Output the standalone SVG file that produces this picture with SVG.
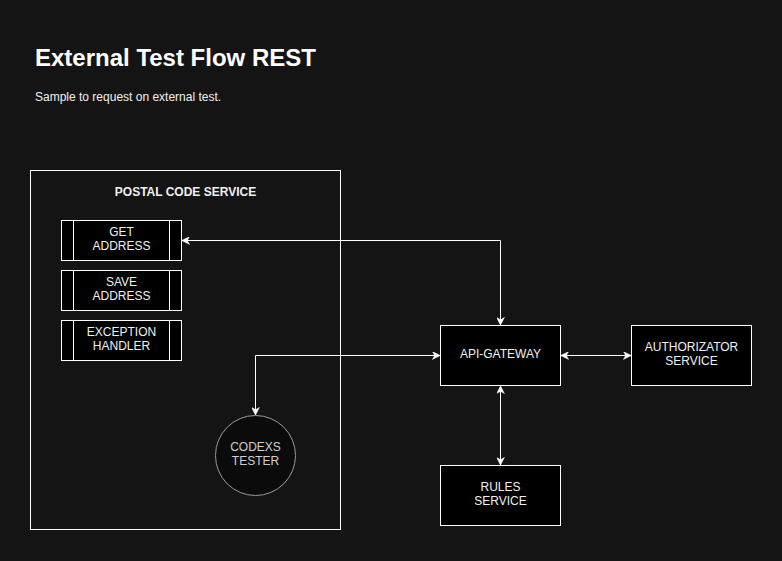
<svg xmlns="http://www.w3.org/2000/svg" width="782" height="561" viewBox="0 0 782 561">
<defs>
<style>
.bg{fill:#141414}
.box{fill:#000;stroke:#fff;stroke-width:1}
.t{font-family:"Liberation Sans",Arial,sans-serif;font-size:12px;fill:#f0f0f0;text-anchor:middle}
.edge{fill:none;stroke:#fff;stroke-width:1}
</style>
<marker id="arr" viewBox="0 0 10 10" refX="9" refY="5" markerWidth="8" markerHeight="8" orient="auto-start-reverse" markerUnits="userSpaceOnUse">
<path d="M0,0 L10,5 L0,10 L3,5 Z" fill="#fff" stroke="#fff" stroke-width="0.5"/>
</marker>
</defs>
<rect class="bg" x="0" y="0" width="782" height="561"/>
<g id="title">
<text x="35" y="66" font-family="'Liberation Sans',Arial,sans-serif" font-size="24" font-weight="bold" fill="#fff">External Test Flow REST</text>
<text x="35" y="101" font-family="'Liberation Sans',Arial,sans-serif" font-size="12" fill="#f0f0f0">Sample to request on external test.</text>
</g>
<g id="postal-code-service">
<rect x="30.5" y="170.5" width="310" height="359" fill="none" stroke="#fff"/>
<text class="t" x="185.5" y="196" font-weight="bold">POSTAL CODE SERVICE</text>
</g>
<g id="get-address">
<rect class="box" x="61.5" y="220.5" width="120" height="40"/>
<line x1="73.5" y1="220.5" x2="73.5" y2="260.5" stroke="#fff"/>
<line x1="169.5" y1="220.5" x2="169.5" y2="260.5" stroke="#fff"/>
<text class="t" x="121.5" y="236">GET</text>
<text class="t" x="121.5" y="250">ADDRESS</text>
</g>
<g id="save-address">
<rect class="box" x="61.5" y="270.5" width="120" height="40"/>
<line x1="73.5" y1="270.5" x2="73.5" y2="310.5" stroke="#fff"/>
<line x1="169.5" y1="270.5" x2="169.5" y2="310.5" stroke="#fff"/>
<text class="t" x="121.5" y="286">SAVE</text>
<text class="t" x="121.5" y="300">ADDRESS</text>
</g>
<g id="exception-handler">
<rect class="box" x="61.5" y="320.5" width="120" height="40"/>
<line x1="73.5" y1="320.5" x2="73.5" y2="360.5" stroke="#fff"/>
<line x1="169.5" y1="320.5" x2="169.5" y2="360.5" stroke="#fff"/>
<text class="t" x="121.5" y="336">EXCEPTION</text>
<text class="t" x="121.5" y="350">HANDLER</text>
</g>
<g id="codexs-tester">
<circle cx="255.5" cy="455.5" r="40" fill="#0b0b0b" stroke="#9a9a9a"/>
<text class="t" x="255.5" y="451" fill="#cfcfcf" style="fill:#cfcfcf">CODEXS</text>
<text class="t" x="255.5" y="465" style="fill:#cfcfcf">TESTER</text>
</g>
<g id="api-gateway">
<rect class="box" x="440.5" y="325.5" width="120" height="60"/>
<text class="t" x="500.5" y="358">API-GATEWAY</text>
</g>
<g id="authorizator-service">
<rect class="box" x="631.5" y="325.5" width="120" height="60"/>
<text class="t" x="691.5" y="351">AUTHORIZATOR</text>
<text class="t" x="691.5" y="365">SERVICE</text>
</g>
<g id="rules-service">
<rect class="box" x="440.5" y="465.5" width="120" height="60"/>
<text class="t" x="500.5" y="491">RULES</text>
<text class="t" x="500.5" y="505">SERVICE</text>
</g>
<g id="connectors">
<path class="edge" d="M182.5,240.5 L500.5,240.5 L500.5,324.5" marker-start="url(#arr)" marker-end="url(#arr)"/>
<path class="edge" d="M255.5,414.5 L255.5,355.5 L439.5,355.5" marker-start="url(#arr)" marker-end="url(#arr)"/>
<path class="edge" d="M561.5,355.5 L630.5,355.5" marker-start="url(#arr)" marker-end="url(#arr)"/>
<path class="edge" d="M500.5,386.5 L500.5,464.5" marker-start="url(#arr)" marker-end="url(#arr)"/>
</g>
</svg>
